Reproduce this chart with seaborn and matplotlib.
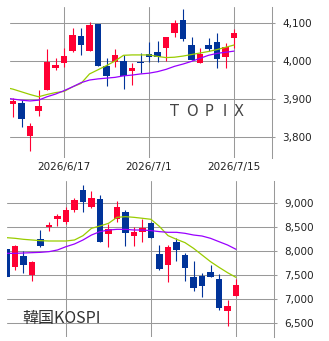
import numpy as np
import pandas as pd
import seaborn as sns
import matplotlib.pyplot as plt

nan = np.nan

# trading days 2026/6/8 .. 2026/7/15
days = ["6/8", "6/9", "6/10", "6/11", "6/12", "6/15", "6/16", "6/17", "6/18", "6/19",
        "6/22", "6/23", "6/24", "6/25", "6/26", "6/29", "6/30", "7/1", "7/2", "7/3",
        "7/6", "7/7", "7/8", "7/9", "7/10", "7/13", "7/14", "7/15"]
tick_days = ["6/17", "7/1", "7/15"]
tick_labels = ["2026/6/17", "2026/7/1", "2026/7/15"]

topix_open = [nan, 3887, 3890, 3803, 3869, 3924, 3982, 3996, 4026, 4066, 4026, 4097, 3987, 3998,
              4000, 3974, 3998, 4018, 4024, 4033, 4073, 4108, 4042, 3996, 4042, 4049, 4011, 4061]
topix_close = [nan, 3895, 3847, 3829, 3882, 3998, 3989, 4013, 4068, 4042, 4095, 3988, 3961, 4016,
               3961, 3982, 3994, 4010, 4011, 4062, 4099, 4057, 4003, 4018, 4031, 4004, 4036, 4074]
topix_high = [nan, 3903, 3897, 3836, 3924, 4032, 4007, 4033, 4086, 4088, 4103, 4098, 4007, 4032,
              4016, 3994, 4020, 4051, 4053, 4064, 4108, 4137, 4064, 4033, 4060, 4073, 4047, 4084]
topix_low = [nan, 3853, 3826, 3764, 3856, 3924, 3976, 3985, 4024, 4016, 4026, 3987, 3934, 3985,
             3926, 3937, 3969, 3998, 3998, 4001, 4064, 4053, 4003, 3994, 4027, 3981, 3981, 4033]
topix_ma_short = [3931, 3926, 3919, 3912, 3906, 3912, 3917, 3920, 3932, 3941, 3966, 3977, 3988, 4000,
                  4015, 4016, 4016, 4016, 4012, 4009, 4010, 4013, 4017, 4021, 4025, 4030, 4036, 4042]
topix_ma_long = [3903, 3900, 3897, 3895, 3897, 3906, 3913, 3922, 3932, 3943, 3950, 3953, 3955, 3957,
                 3961, 3963, 3966, 3968, 3972, 3978, 3986, 3992, 3999, 4007, 4015, 4020, 4023, 4026]

kospi_open = [8042, 7674, 7896, 7507, 8250, 8493, 8667, 8597, 8854, 9271, 8924, 9083, 8347, 8667,
              8806, 8313, 8403, 8590, 7938, 7708, 8194, 7917, 7451, 7479, 7563, 7417, 6757, 7069]
kospi_close = [7465, 8104, 7715, 7771, 8104, 8542, 8729, 8854, 9062, 9028, 9097, 8194, 8451, 8910,
               8382, 8403, 8486, 8278, 7632, 8076, 8021, 7653, 7236, 7278, 7465, 6806, 6854, 7292]
kospi_high = [8042, 8125, 8000, 7799, 8437, 8611, 8764, 8910, 9097, 9375, 9250, 9167, 8563, 9042,
              8854, 8507, 8667, 8611, 8125, 8125, 8264, 7965, 7799, 7535, 7708, 7514, 6979, 7410]
kospi_low = [7465, 7604, 7535, 7382, 8076, 8424, 8528, 8563, 8819, 8819, 8889, 8194, 8076, 8611,
             8104, 8104, 8194, 8264, 7604, 7361, 7799, 7382, 7174, 7049, 7451, 6771, 6444, 7069]
kospi_ma_short = [8278, 8264, 8243, 8229, 8215, 8208, 8208, 8208, 8229, 8319, 8472, 8521, 8576, 8701,
                  8715, 8701, 8681, 8660, 8510, 8320, 8243, 8174, 8056, 7917, 7778, 7660, 7549, 7450]
kospi_ma_long = [7951, 7951, 7958, 7965, 7972, 7986, 8021, 8090, 8146, 8229, 8333, 8403, 8437, 8451,
                 8451, 8437, 8437, 8424, 8403, 8389, 8389, 8368, 8333, 8312, 8264, 8194, 8125, 8035]

topix_ticks = [3800, 3900, 4000, 4100]
kospi_ticks = [6500, 7000, 7500, 8000, 8500, 9000]

RED = "#ff0033"
BLUE = "#003399"
GREEN = "#99cc00"
PURPLE = "#9900ff"
GRID = "#999999"

sns.set_style("white")
plt.rcParams["font.family"] = ["DejaVu Sans"]

W, H = 329, 341
fig = plt.figure(figsize=(W / 100, H / 100), dpi=100)


def px_axes(left, right, top, bottom):
    return fig.add_axes([left / W, 1 - bottom / H, (right - left) / W, (bottom - top) / H])


def draw_panel(ax, o, h, l, c, ma_s, ma_l, yticks):
    df = pd.DataFrame({"day": days, "open": o, "high": h, "low": l, "close": c,
                       "ma_s": ma_s, "ma_l": ma_l})
    df["x"] = np.arange(len(df))
    bars = df.dropna(subset=["open"])
    colors = np.where(bars["close"] >= bars["open"], RED, BLUE)
    ax.vlines(bars["x"], bars["low"], bars["high"], colors=colors, lw=0.8, zorder=2)
    body = (bars["close"] - bars["open"]).abs()
    ax.bar(bars["x"], body, bottom=bars[["open", "close"]].min(axis=1), width=0.72,
           color=colors, linewidth=0, zorder=3)
    sns.lineplot(data=df, x="x", y="ma_s", ax=ax, color=GREEN, lw=0.9, zorder=4)
    sns.lineplot(data=df, x="x", y="ma_l", ax=ax, color=PURPLE, lw=0.9, zorder=4)

    ax.set_xticks([days.index(d) for d in tick_days])
    ax.set_yticks(yticks)
    ax.set_yticklabels([f"{v:,}" for v in yticks])
    ax.yaxis.tick_right()
    ax.grid(True, color=GRID, lw=0.75, zorder=0)
    ax.set_axisbelow(True)
    for side in ["left", "top", "bottom"]:
        ax.spines[side].set_visible(False)
    ax.spines["right"].set_color(GRID)
    ax.spines["right"].set_linewidth(0.75)
    ax.tick_params(axis="y", length=2.2, width=0.75, color=GRID, pad=5,
                   labelsize=7.5, labelcolor="#222222")
    ax.tick_params(axis="x", length=0, pad=3, labelsize=7.5, labelcolor="#222222")
    ax.set_xlabel("")
    ax.set_ylabel("")


ax1 = px_axes(10, 272, 7, 158)
draw_panel(ax1, topix_open, topix_high, topix_low, topix_close,
           topix_ma_short, topix_ma_long, topix_ticks)
ax1.set_xlim(0.647, 31.47)
ax1.set_ylim(3745, 4142)
ax1.set_xticklabels(tick_labels)
for ch, xp in zip("TOPIX", [175, 192, 209, 225, 239]):
    ax1.text((xp - 10) / 262, (158 - 112) / 151, ch, transform=ax1.transAxes,
             ha="center", va="center", fontsize=10.5, color="#444444")

ax2 = px_axes(7, 274, 181, 337)
draw_panel(ax2, kospi_open, kospi_high, kospi_low, kospi_close,
           kospi_ma_short, kospi_ma_long, kospi_ticks)
ax2.set_xlim(0.06, 31.47)
ax2.set_ylim(6208, 9458)
ax2.set_xticklabels([])
ax2.text((22.7 - 7) / 267, (337 - 319) / 156, "韓国KOSPI", transform=ax2.transAxes,
         ha="left", va="center", fontsize=11.5, color="#333333",
         family=["Noto Sans CJK JP", "DejaVu Sans"])

fig.savefig("out.png", dpi=100)
